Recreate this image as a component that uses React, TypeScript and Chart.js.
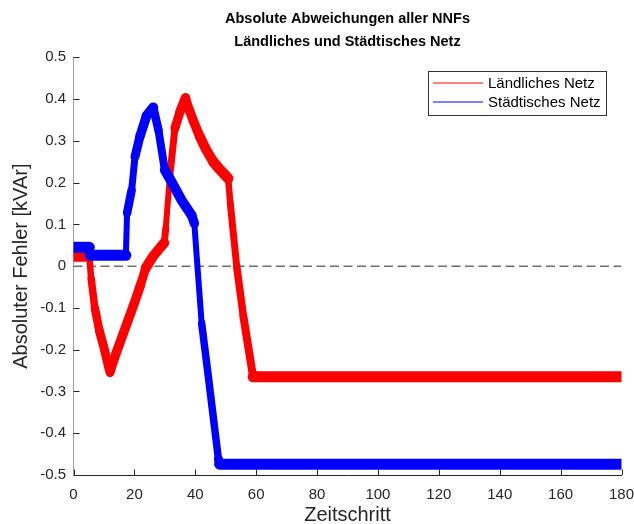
import React, { useEffect, useRef } from "react";
import { Chart, registerables } from "chart.js";

Chart.register(...registerables);

const TITLE_LINES = ["Absolute Abweichungen aller NNFs", "Ländliches und Städtisches Netz"];
const X_LABEL = "Zeitschritt";
const Y_LABEL = "Absoluter Fehler [kVAr]";
const SERIES_LABELS = ["Ländliches Netz", "Städtisches Netz"];
const SERIES_COLORS = ["#ff0000", "#0000ff"];

const X_MIN = 0;
const X_MAX = 180;
const X_STEP = 20;
const Y_MIN = -0.5;
const Y_MAX = 0.5;
const Y_STEP = 0.1;

// Ländliches Netz (red)
const RURAL_X = [0, 5.2, 5.8, 7, 8.5, 10, 11.3, 12, 13, 14, 16, 18, 20, 22, 23.7, 26, 28, 29.8, 30.3, 31.7, 33.3, 35, 36.8, 38, 39.5, 41.5, 43.5, 45.9, 48, 50.8, 51.5, 53.6, 55.8, 58, 59, 180];
const RURAL_Y = [0.024, 0.024, -0.03, -0.1, -0.155, -0.195, -0.235, -0.255, -0.23, -0.208, -0.168, -0.128, -0.088, -0.045, -0.005, 0.022, 0.04, 0.056, 0.09, 0.22, 0.33, 0.37, 0.403, 0.375, 0.345, 0.31, 0.28, 0.25, 0.232, 0.21, 0.15, 0, -0.12, -0.22, -0.265, -0.265];

// Städtisches Netz (blue)
const URBAN_X = [0, 5.2, 5.5, 17.2, 17.6, 19.1, 20.2, 21.8, 24, 26.2, 27.9, 30, 32.2, 35.5, 38.8, 39.7, 40.5, 42.1, 44.3, 47.6, 48, 180];
const URBAN_Y = [0.045, 0.045, 0.026, 0.026, 0.127, 0.182, 0.262, 0.31, 0.36, 0.38, 0.326, 0.23, 0.202, 0.158, 0.122, 0.102, 0.02, -0.137, -0.265, -0.462, -0.474, -0.474];

// zero reference line
const ZERO_X = [0, 180];
const ZERO_Y = [0, 0];

const FONT = "'Liberation Sans', Arial, Helvetica, sans-serif";
const AXIS_COLOR = "#262626";

const toPoints = (xs: number[], ys: number[]) => xs.map((x, i) => ({ x, y: ys[i] }));

const bandWidth = (c: any) => {
  const dx = Math.abs(c.p1.x - c.p0.x);
  const dy = Math.abs(c.p1.y - c.p0.y);
  const s = dx > 0.01 ? dy / dx : 100;
  const w = 11 / (1 + 0.06 * s);
  return Math.max(6, Math.round(w * 2) / 2);
};

const inwardTicks = {
  id: "inwardTicks",
  beforeDatasetsDraw(chart: any) {
    const { ctx, chartArea, scales } = chart;
    const xs = scales.x;
    const ys = scales.y;
    ctx.save();
    ctx.strokeStyle = AXIS_COLOR;
    ctx.lineWidth = 1;
    ctx.beginPath();
    xs.ticks.forEach((t: any) => {
      const px = Math.round(xs.getPixelForValue(t.value)) + 0.5;
      ctx.moveTo(px, chartArea.bottom);
      ctx.lineTo(px, chartArea.bottom - 5.5);
    });
    ys.ticks.forEach((t: any) => {
      const py = Math.round(ys.getPixelForValue(t.value)) + 0.5;
      ctx.moveTo(chartArea.left, py);
      ctx.lineTo(chartArea.left + 6, py);
    });
    ctx.stroke();
    ctx.restore();
  },
};

const boxLegend = {
  id: "boxLegend",
  afterDraw(chart: any) {
    const { ctx } = chart;
    const items = chart.data.datasets.filter((d: any) => d.inLegend);
    const x0 = 428.5;
    const y0 = 71.5;
    const w = 178;
    const h = 44;
    ctx.save();
    ctx.fillStyle = "#ffffff";
    ctx.fillRect(x0, y0, w, h);
    ctx.strokeStyle = "#333333";
    ctx.lineWidth = 1;
    ctx.strokeRect(x0, y0, w, h);
    items.forEach((d: any, i: number) => {
      const y = 83 + i * 19;
      ctx.strokeStyle = SERIES_COLORS[i];
      ctx.lineWidth = 1;
      ctx.beginPath();
      ctx.moveTo(433, y);
      ctx.lineTo(483, y);
      ctx.stroke();
      ctx.fillStyle = "#000000";
      ctx.font = `15px ${FONT}`;
      ctx.textBaseline = "middle";
      ctx.textAlign = "left";
      ctx.fillText(d.label, 488, y + 1);
    });
    ctx.restore();
  },
};

export default function App() {
  const ref = useRef<HTMLCanvasElement | null>(null);

  useEffect(() => {
    if (!ref.current) return;
    const chart = new Chart(ref.current, {
      type: "line",
      data: {
        datasets: [
          {
            label: SERIES_LABELS[0],
            inLegend: true,
            data: toPoints(RURAL_X, RURAL_Y),
            borderColor: SERIES_COLORS[0],
            backgroundColor: SERIES_COLORS[0],
            borderWidth: 11,
            borderCapStyle: "round",
            borderJoinStyle: "round",
            pointRadius: 0,
            tension: 0,
            clip: 0,
            order: 1,
            segment: { borderWidth: bandWidth },
          } as any,
          {
            label: SERIES_LABELS[1],
            inLegend: true,
            data: toPoints(URBAN_X, URBAN_Y),
            borderColor: SERIES_COLORS[1],
            backgroundColor: SERIES_COLORS[1],
            borderWidth: 11,
            borderCapStyle: "round",
            borderJoinStyle: "round",
            pointRadius: 0,
            tension: 0,
            clip: 0,
            order: 0,
            segment: { borderWidth: bandWidth },
          } as any,
          {
            label: "0",
            inLegend: false,
            data: toPoints(ZERO_X, ZERO_Y),
            borderColor: "#6e6e6e",
            borderWidth: 1.5,
            borderDash: [9, 4.5],
            pointRadius: 0,
            clip: 0,
            order: 2,
          } as any,
        ],
      },
      options: {
        animation: false,
        responsive: false,
        devicePixelRatio: 1,
        layout: { padding: { top: 0, left: 0, right: 12.5, bottom: 0 } },
        plugins: {
          legend: { display: false },
          tooltip: { enabled: false },
          title: {
            display: true,
            text: TITLE_LINES,
            fullSize: false,
            color: "#000000",
            font: { family: FONT, size: 14.5, weight: "bold", lineHeight: 23 / 14.5 },
            padding: { top: 7, bottom: 4.3 },
          },
        },
        scales: {
          x: {
            type: "linear",
            min: X_MIN,
            max: X_MAX,
            grid: { display: false, drawTicks: false, tickLength: 0 },
            border: { display: true, color: AXIS_COLOR, width: 1 },
            ticks: {
              stepSize: X_STEP,
              color: AXIS_COLOR,
              padding: 11,
              maxRotation: 0,
              font: { family: FONT, size: 15 },
            },
            title: {
              display: true,
              text: X_LABEL,
              color: AXIS_COLOR,
              font: { family: FONT, size: 20, lineHeight: 0.9 },
              padding: { top: 0, bottom: 0 },
            },
            afterFit: (s: any) => {
              s.height = 49;
              s.paddingLeft = 0;
              s.paddingRight = 0;
            },
          },
          y: {
            type: "linear",
            min: Y_MIN,
            max: Y_MAX,
            grid: { display: false, drawTicks: false, tickLength: 0 },
            border: { display: true, color: "#a0a0a0", width: 1 },
            ticks: {
              stepSize: Y_STEP,
              color: AXIS_COLOR,
              padding: 7.5,
              font: { family: FONT, size: 15 },
              callback: (v: any) => String(Math.round(Number(v) * 10) / 10),
            },
            title: {
              display: true,
              text: Y_LABEL,
              color: AXIS_COLOR,
              font: { family: FONT, size: 20, lineHeight: 1 },
              padding: { top: 11, bottom: 0 },
            },
            afterFit: (s: any) => {
              s.width = 73.5;
              s.paddingTop = 0;
              s.paddingBottom = 0;
            },
          },
        },
      } as any,
      plugins: [inwardTicks, boxLegend],
    });
    return () => chart.destroy();
  }, []);

  return (
    <div style={{ position: "absolute", left: 0, top: 0, width: 634, height: 524, background: "#ffffff" }}>
      <canvas ref={ref} width={634} height={524} style={{ display: "block", width: 634, height: 524 }} />
    </div>
  );
}
